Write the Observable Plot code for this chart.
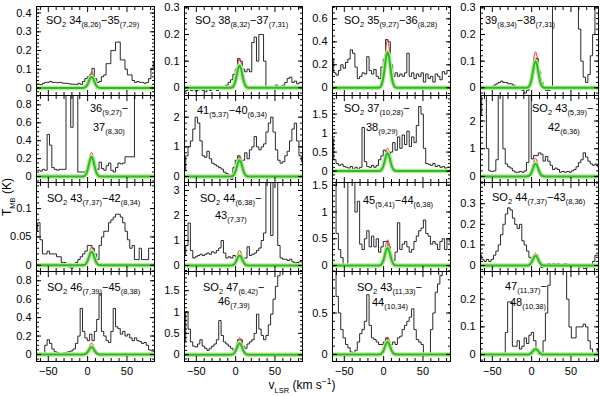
<!DOCTYPE html>
<html>
<head>
<meta charset="utf-8">
<script src="https://cdn.jsdelivr.net/npm/d3@7"></script>
<script src="https://cdn.jsdelivr.net/npm/@observablehq/plot@0.6"></script>
<style>
html,body{margin:0;padding:0;background:#fff;}
#chart{position:relative;width:600px;height:396px;overflow:hidden;font-family:"Liberation Sans",Arial,sans-serif;color:#000;}
.pw{position:absolute;}
.ttl{position:absolute;font-size:11px;line-height:11px;white-space:nowrap;}
.ttl sub,.lab sub{font-size:7.5px;vertical-align:baseline;position:relative;top:3.5px;}
.lab{position:absolute;font-size:12px;line-height:12px;white-space:nowrap;}
.lab sup{font-size:8.5px;vertical-align:baseline;position:relative;top:-5px;}
</style>
</head>
<body>
<div id="chart"></div>
<script>
// ---------- data ----------
const vel = [-65,-62,-59,-56,-53,-50,-47,-44,-41,-38,-35,-32,-29,-26,-23,-20,-17,-14,-11,-8,
  -5,-2,1,4,7,10,13,16,19,22,25,28,31,34,37,40,43,46,49,52,55,58,61,64,67,70,73,76,79,82,85];

const spec01 = [0.02,0.02,0.018,0.025,0.03,0.03,0.035,0.03,0.03,0.028,
  0.03,0.027,0.025,0.025,0.022,0.02,0.02,0.018,0.025,0.02,
  0.035,0.05,0.06,0.07,0.105,0.05,0.03,0.035,0.06,0.07,
  0.13,0.13,0.2,0.2,0.245,0.245,0.15,0.15,0.1,0.07,
  0.07,0.04,0.03,0.035,0.03,0.03,0.025,0.03,0.05,0.105,0.14];
const spec02 = [-0.015,-0.01,-0.005,-0.01,-0.005,-0.012,-0.008,0.0,-0.01,-0.015,
  -0.005,-0.01,-0.005,0.0,-0.01,0.0,0.005,0.005,0.01,0.02,
  0.03,0.05,0.07,0.11,0.1,0.07,0.06,0.07,0.06,0.17,
  0.19,0.1,0.2,0.2,0.1,0.0,0.005,-0.005,0.0,0.01,
  0.0,-0.005,0.01,0.02,0.035,0.04,0.02,0.025,0.015,0.02,0.02];
const spec03 = [0.25,0.13,0.11,0.15,0.2,0.17,0.22,0.25,0.33,0.3,
  0.18,0.08,0.1,0.13,0.12,0.27,0.15,0.12,0.16,0.1,
  0.08,0.18,0.25,0.42,0.4,0.2,0.1,0.13,0.1,0.12,
  0.1,0.13,0.3,0.1,0.13,0.08,0.12,0.1,0.13,0.05,
  0.12,0.08,0.1,0.05,0.12,0.1,0.07,0.14,0.12,0.15,0.15];
const spec04 = [0.0,0.005,0.0,0.0,-0.005,0.005,0.01,0.015,0.02,0.025,
  0.02,0.02,0.015,0.015,0.01,0.005,0.0,-0.005,-0.01,-0.02,
  -0.01,0.01,0.05,0.1,0.11,0.06,0.02,0.0,-0.01,-0.01,
  -0.005,0.4,0.4,0.4,0.4,0.4,0.4,0.4,0.4,0.4,
  0.4,0.4,0.22,0.1,0.04,0.02,0.05,0.12,0.2,0.35,0.4];
const spec05 = [0.07,0.07,0.06,0.08,0.07,0.47,0.35,0.1,0.08,0.07,
  0.08,0.08,0.08,1.2,1.2,0.55,1.2,1.2,0.05,0.05,
  0.05,0.06,0.1,0.2,0.15,0.1,0.08,0.16,0.09,0.07,
  0.12,0.15,0.07,0.05,0.1,0.15,0.14,0.15,0.22,0.22,
  0.22,0.22,1.2,1.2,1.2,1.2,1.2,1.2,1.2,1.2,1.2];
const spec06 = [0.2,0.7,1.0,1.2,1.6,2.0,1.8,1.2,0.7,0.65,
  0.85,0.6,0.45,0.4,0.35,0.3,0.25,0.15,0.1,0.05,
  -0.1,0.3,0.55,0.7,0.5,0.55,0.8,0.6,0.9,1.0,
  1.35,1.0,0.9,1.0,1.1,1.5,1.8,2.0,1.5,0.9,
  0.55,0.45,0.5,0.7,0.85,1.2,1.6,1.8,1.2,0.7,0.5];
const spec07 = [0.85,0.3,0.2,0.15,0.18,0.12,0.1,0.08,0.12,0.05,
  0.1,0.05,0.1,1.15,0.25,0.12,0.1,0.15,0.1,0.15,
  0.3,0.4,0.55,0.5,0.35,0.5,0.75,0.55,0.9,0.6,
  0.95,0.7,1.05,0.65,0.9,0.75,1.2,1.7,1.5,0.6,
  0.2,0.18,0.15,0.2,0.12,0.15,0.1,0.12,0.08,0.1,0.1];
const spec08 = [2.2,3.5,3.5,1.0,0.2,0.18,0.2,0.6,3.5,3.5,
  1.0,0.45,0.35,0.3,0.2,0.15,0.15,0.18,0.15,0.2,
  0.5,3.5,0.63,0.75,0.75,0.85,0.8,0.55,0.72,0.55,
  0.4,0.25,0.3,0.25,0.15,0.18,0.15,0.18,0.15,0.2,
  0.25,0.35,0.5,0.6,0.85,0.7,0.55,0.45,0.4,0.45,0.35];
const spec09 = [0.06,0.075,0.045,0.02,0.02,0.025,0.02,0.02,0.02,0.015,
  0.015,0.005,0.005,0.0,-0.003,-0.005,0.0,0.005,0.01,0.015,
  0.02,0.025,0.035,0.035,0.03,0.02,0.01,0.035,0.05,0.06,
  0.06,0.075,0.08,0.085,0.09,0.09,0.085,0.075,0.06,0.045,
  0.03,0.035,0.01,0.01,0.03,0.01,0.01,0.01,0.03,0.03,0.03];
const spec10 = [0.4,0.8,1.7,0.6,0.3,0.35,0.4,0.45,0.4,0.45,
  0.5,0.45,0.55,0.5,0.6,0.7,1.0,0.5,0.3,0.35,
  0.3,0.4,0.35,0.4,0.3,0.3,0.3,0.75,0.4,0.45,
  0.5,0.6,0.7,1.0,1.3,4,4,1.2,4,4,
  0.8,0.3,0.25,0.25,0.2,0.25,0.15,0.1,0.12,0.15,0.15];
const spec11 = [1.6,1.6,0.6,0.3,0.15,0.0,0.02,1.6,1.6,1.6,
  1.0,1.2,0.4,0.3,0.5,0.65,0.35,0.55,0.35,0.5,
  0.25,0.35,0.45,0.45,0.35,0.1,0.1,0.25,0.8,0.3,
  0.4,0.45,0.35,0.25,0.3,0.45,0.55,0.65,0.7,0.85,
  0.6,0.55,0.4,0.45,0.4,0.3,0.45,0.5,0.3,0.5,0.45];
const spec12 = [0.05,0.03,0.02,0.03,0.02,0.03,0.05,0.07,0.1,0.15,
  0.2,0.25,0.28,0.27,0.23,0.2,0.18,0.2,0.12,0.1,
  0.07,0.04,0.03,0.05,0.05,0.02,-0.01,0.0,0.005,0.01,
  0.005,0.01,0.005,0.01,0.005,0.0,0.01,0.0,0.005,0.0,
  -0.005,0.0,-0.01,0.0,-0.015,-0.01,0.0,-0.005,0.02,0.05,0.05];
const spec13 = [0.02,0.01,0.0,0.01,0.1,0.16,0.12,0.06,0.03,0.02,
  0.0,0.01,0.02,0.025,0.03,0.04,0.06,0.12,0.2,0.5,
  0.25,0.18,0.15,0.22,0.15,0.25,0.38,0.66,0.25,0.2,
  0.15,0.13,0.25,0.5,0.3,0.28,0.22,0.25,0.2,0.22,
  0.18,0.15,0.18,0.15,0.14,0.12,0.13,0.1,0.05,0.04,0.03];
const spec14 = [0.3,1.0,0.6,0.3,0.2,0.18,0.25,0.35,0.2,0.15,
  0.1,0.15,0.2,0.25,0.35,0.8,0.45,0.3,0.25,0.2,
  0.15,0.1,0.15,0.35,0.35,0.2,0.15,0.25,0.3,0.35,
  0.5,0.95,0.6,0.45,0.35,0.45,0.7,0.95,1.3,1.6,
  1.85,2.5,2.5,2.5,2.5,2.5,2.5,2.5,2.5,2.5,2.5];
const spec15 = [1.2,1.0,0.7,0.5,0.3,0.2,0.12,0.08,0.03,-0.01,
  0.05,0.15,0.25,0.3,0.4,0.72,0.35,0.2,0.18,0.15,
  0.12,0.12,0.15,0.2,0.15,0.12,0.15,0.12,0.2,0.22,
  0.3,0.35,0.4,0.45,0.55,0.3,0.18,0.15,0.12,0.0,
  0.0,0.0,0.3,0.5,0.75,0.85,0.95,1.0,1.2,1.2,1.2];
const spec16 = [0,0,0,0,0,0,0,0,0,0,
  0.0,0.08,0.19,0.19,0.03,0.03,0.05,0.02,0.03,0.06,
  0.04,0.07,0.08,0.05,0.02,0.0,0.0,0.05,0.15,0.25,
  0.35,0.35,0.35,0.35,0.35,0.35,0.35,0.2,0.1,0.06,
  0.06,0.1,0.1,0.1,0.11,0.1,0.05,0.02,0.0,0.0,0.02];

// Gaussian fit profile (normalised)
const gaussV = [-65,-8,-5,-3,-1,0.5,2,3.5,5,6.5,8,9.5,11,13,15,18,85];
const gaussShape = [0,0,0.013,0.063,0.211,0.417,0.678,0.907,1,0.907,0.678,0.417,0.211,0.063,0.013,0,0];
const redPeak   = [0.085,0.11,0.42,0.135,0.27,0.71,0.6,0.65,0.032,0.6,0.48,0.06,0.124,0.4,0.21,0.026];
const greenPeak = [0.06,0.084,0.31,0.1,0.22,0.55,0.47,0.46,0.024,0.4,0.33,0.048,0.08,0.27,0.15,0.02];

const yDomains = [[-0.04,0.435],[-0.029,0.305],[-0.067,0.707],[-0.029,0.305],
  [-0.067,0.905],[-0.2,2.73],[-0.3,1.99],[-0.22,2.92],
  [-0.011,0.146],[-0.24,3.32],[-0.11,1.55],[-0.029,0.403],
  [-0.076,0.9],[-0.16,1.95],[-0.085,1.0],[-0.025,0.3]];
const yTicks = [[0,0.1,0.2,0.3,0.4],[0,0.1,0.2,0.3],[0,0.2,0.4,0.6],[0,0.1,0.2,0.3],
  [0,0.2,0.4,0.6,0.8],[0,1,2],[0,0.5,1,1.5],[0,1,2],
  [0,0.05,0.1],[0,1,2,3],[0,0.5,1,1.5],[0,0.1,0.2,0.3],
  [0,0.2,0.4,0.6,0.8],[0,0.5,1,1.5],[0,0.5],[0,0.1,0.2]];
const yMinorStep = [0.02,0.02,0.05,0.02,0.05,0.2,0.1,0.2,0.01,0.2,0.1,0.02,0.05,0.1,0.1,0.02];
const xTicks = [-50,0,50];
const xMinor = [-60,-40,-30,-20,-10,10,20,30,40,60,70,80];

const titles = [
  ["SO<sub>2</sub> 34<sub>(8,26)</sub>−35<sub>(7,29)</sub>"],
  ["SO<sub>2</sub> 38<sub>(8,32)</sub>−37<sub>(7,31)</sub>"],
  ["SO<sub>2</sub> 35<sub>(9,27)</sub>−36<sub>(8,28)</sub>"],
  ["39<sub>(8,34)</sub>−38<sub>(7,31)</sub>"],
  ["36<sub>(9,27)</sub>−","37<sub>(8,30)</sub>"],
  ["41<sub>(5,37)</sub>−40<sub>(6,34)</sub>"],
  ["SO<sub>2</sub> 37<sub>(10,28)</sub>−","38<sub>(9,29)</sub>"],
  ["SO<sub>2</sub> 43<sub>(5,39)</sub>−","42<sub>(6,36)</sub>"],
  ["SO<sub>2</sub> 43<sub>(7,37)</sub>−42<sub>(8,34)</sub>"],
  ["SO<sub>2</sub> 44<sub>(6,38)</sub>−","43<sub>(7,37)</sub>"],
  ["45<sub>(5,41)</sub>−44<sub>(6,38)</sub>"],
  ["SO<sub>2</sub> 44<sub>(7,37)</sub>−43<sub>(8,36)</sub>"],
  ["SO<sub>2</sub> 46<sub>(7,39)</sub>−45<sub>(8,38)</sub>"],
  ["SO<sub>2</sub> 47<sub>(6,42)</sub>−","46<sub>(7,39)</sub>"],
  ["SO<sub>2</sub> 43<sub>(11,33)</sub>−","44<sub>(10,34)</sub>"],
  ["47<sub>(11,37)</sub>−","48<sub>(10,38)</sub>"]
];

// ---------- layout ----------
const colLeft = [36,184,332,480];
const rowEdges = [6,95,182,271,361];
const panelW = 118;
const titleDX = [[10],[11],[12],[5],[54,57],[13],[12,34],[52,68],[11],[16,31],[31],[12],[11],[19,34],[25,40],[25,30]];
const titleDY = [[14],[14],[14],[14],[13,32],[15],[13,32],[13,32],[16],[16,33],[18],[15],[16],[16,30],[16,31],[15,31]];

const spectra = [spec01,spec02,spec03,spec04,spec05,spec06,spec07,spec08,spec09,spec10,spec11,spec12,spec13,spec14,spec15,spec16];
const chart = document.getElementById("chart");
const FONT = '"Liberation Sans", Arial, sans-serif';
const fmt = d => (d < 0 ? "−" + String(-d) : String(d));
const blank = () => "";

spectra.forEach((spec, i) => {
  const r = Math.floor(i / 4), c = i % 4;
  const top = rowEdges[r], h = rowEdges[r + 1] - rowEdges[r];
  const ml = 34, mr = 4, mt = 4, mb = r === 3 ? 24 : 4;
  const rows = vel.map((v, j) => ({v, t: spec[j]}));
  const red = gaussV.map((v, j) => ({v, t: gaussShape[j] * redPeak[i]}));
  const green = gaussV.map((v, j) => ({v, t: gaussShape[j] * greenPeak[i]}));
  const [d0, d1] = yDomains[i];
  const s = yMinorStep[i];
  const yMinor = d3.range(Math.ceil(d0 / s - 1e-9), Math.floor(d1 / s + 1e-9) + 1).map(k => +(k * s).toFixed(4));
  const tk = {stroke: "black", strokeWidth: 1, tickFormat: blank, label: null};
  const marks = [
    Plot.line(rows, {x: "v", y: "t", curve: "step", stroke: "#111", strokeWidth: 0.9, clip: true}),
    Plot.line(red, {x: "v", y: "t", curve: "monotone-x", stroke: "#e8342c", strokeWidth: 1, clip: true}),
    Plot.line(green, {x: "v", y: "t", curve: "monotone-x", stroke: "#b6ec8c", strokeWidth: 4.5, clip: true}),
    Plot.line(green, {x: "v", y: "t", curve: "monotone-x", stroke: "#2db82d", strokeWidth: 2, clip: true}),
    Plot.frame({stroke: "black", strokeWidth: 1}),
    Plot.axisX({...tk, anchor: "bottom", ticks: xTicks, tickSize: 5, dy: -5}),
    Plot.axisX({...tk, anchor: "bottom", ticks: xMinor, tickSize: 3, dy: -3}),
    Plot.axisX({...tk, anchor: "top", ticks: xTicks, tickSize: 5, dy: 5}),
    Plot.axisX({...tk, anchor: "top", ticks: xMinor, tickSize: 3, dy: 3}),
    Plot.axisY({...tk, anchor: "left", ticks: yTicks[i], tickSize: 5, dx: 5}),
    Plot.axisY({...tk, anchor: "left", ticks: yMinor, tickSize: 3, dx: 3}),
    Plot.axisY({...tk, anchor: "right", ticks: yTicks[i], tickSize: 5, dx: -5}),
    Plot.axisY({...tk, anchor: "right", ticks: yMinor, tickSize: 3, dx: -3}),
    Plot.axisY({anchor: "left", ticks: yTicks[i], tickSize: 0, tickPadding: 5, tickFormat: fmt, label: null})
  ];
  if (r === 3) marks.push(Plot.axisX({anchor: "bottom", ticks: xTicks, tickSize: 0, tickPadding: 6, tickFormat: fmt, label: null}));
  const svg = Plot.plot({
    width: panelW + ml + mr,
    height: h + mt + mb,
    marginLeft: ml, marginRight: mr, marginTop: mt, marginBottom: mb,
    x: {domain: [-65, 85], label: null},
    y: {domain: yDomains[i], label: null},
    style: {background: "transparent", overflow: "visible", fontSize: "11px", fontFamily: FONT, color: "black"},
    marks
  });
  const wrap = document.createElement("div");
  wrap.className = "pw";
  wrap.style.left = (colLeft[c] - ml) + "px";
  wrap.style.top = (top - mt) + "px";
  wrap.style.width = (panelW + ml + mr) + "px";
  wrap.appendChild(svg);
  chart.appendChild(wrap);

  titles[i].forEach((txt, k) => {
    const t = document.createElement("div");
    t.className = "ttl";
    t.innerHTML = txt;
    t.style.left = (colLeft[c] + titleDX[i][k]) + "px";
    t.style.top = (top + titleDY[i][k] - 5.5) + "px";
    chart.appendChild(t);
  });
});

// axis titles
const xl = document.createElement("div");
xl.className = "lab";
xl.innerHTML = "v<sub>LSR</sub> (km s<sup>−1</sup>)";
xl.style.left = "302px"; xl.style.top = "386px";
xl.style.transform = "translate(-50%,-50%)";
chart.appendChild(xl);

const yl = document.createElement("div");
yl.className = "lab";
yl.innerHTML = "T<sub>MB</sub> (K)";
yl.style.left = "8px"; yl.style.top = "197px";
yl.style.transform = "translate(-50%,-50%) rotate(-90deg)";
chart.appendChild(yl);
</script>
</body>
</html>
